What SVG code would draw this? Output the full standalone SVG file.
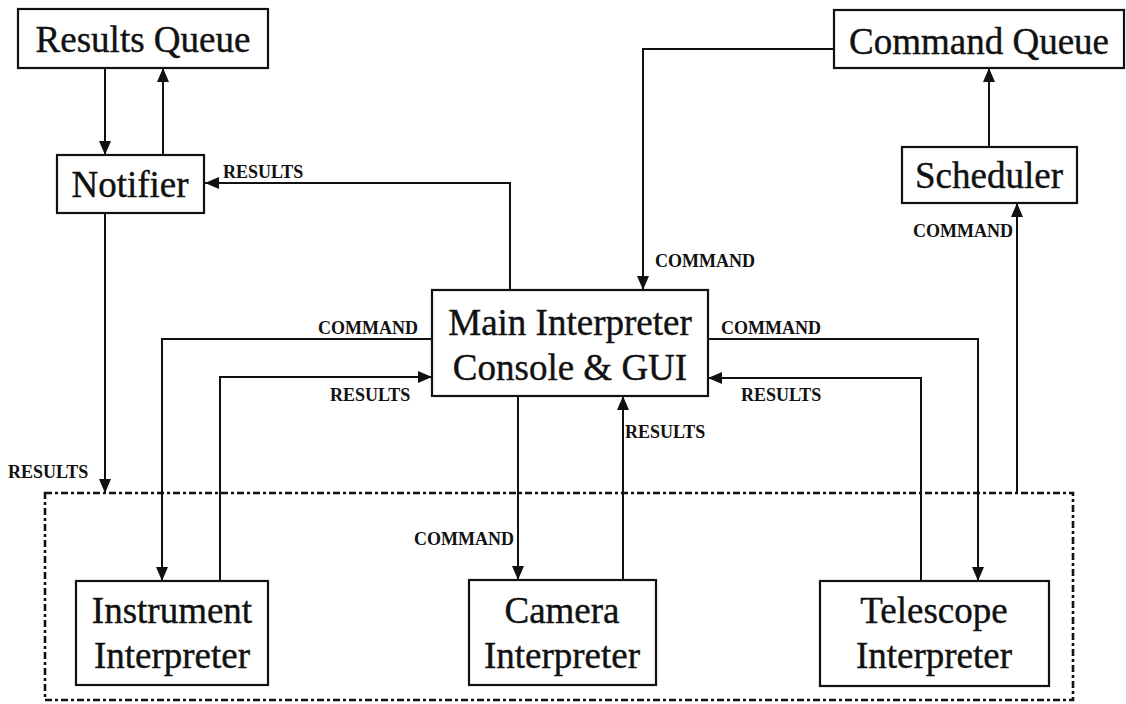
<svg xmlns="http://www.w3.org/2000/svg" width="1126" height="704" viewBox="0 0 1126 704">
  <style>
    .box { fill: #ffffff; stroke: #111111; stroke-width: 2.2; }
    .big { font-family: "Liberation Serif", "Times New Roman", serif; font-size: 37px; fill: #111111; text-anchor: middle; stroke: #111111; stroke-width: 0.4; }
    .lbl { font-family: "Liberation Serif", "Times New Roman", serif; font-size: 18px; font-weight: bold; fill: #111111; }
    .wire { fill: none; stroke: #111111; stroke-width: 2; }
    .frame { fill: none; stroke: #111111; stroke-width: 2.6; stroke-dasharray: 7 3 3 3; }
  </style>
  <defs>
    <marker id="arrow" viewBox="0 0 14 12" refX="14" refY="6" markerWidth="14" markerHeight="12" markerUnits="userSpaceOnUse" orient="auto">
      <path d="M0,0 L14,6 L0,12 Z" fill="#111111"/>
    </marker>
  </defs>

  <rect width="1126" height="704" fill="#ffffff"/>

  <!-- dashed boundary around the interpreters -->
  <rect class="frame" x="45" y="493" width="1028" height="207"/>

  <!-- connectors -->
  <g id="connectors">
    <path class="wire" d="M105,68 V155" marker-end="url(#arrow)"/>
    <path class="wire" d="M163,155 V68" marker-end="url(#arrow)"/>
    <path class="wire" d="M510,290 V183 H205" marker-end="url(#arrow)"/>
    <path class="wire" d="M105,213 V493" marker-end="url(#arrow)"/>
    <path class="wire" d="M834,49 H643 V290" marker-end="url(#arrow)"/>
    <path class="wire" d="M989,147 V68" marker-end="url(#arrow)"/>
    <path class="wire" d="M1017,493 V203" marker-end="url(#arrow)"/>
    <path class="wire" d="M432,339 H162 V581" marker-end="url(#arrow)"/>
    <path class="wire" d="M220,581 V377 H432" marker-end="url(#arrow)"/>
    <path class="wire" d="M518,396 V580" marker-end="url(#arrow)"/>
    <path class="wire" d="M623,580 V396" marker-end="url(#arrow)"/>
    <path class="wire" d="M708,339 H978 V581" marker-end="url(#arrow)"/>
    <path class="wire" d="M921,581 V378 H708" marker-end="url(#arrow)"/>

    <text class="lbl" x="223" y="178">RESULTS</text>
    <text class="lbl" x="655" y="267">COMMAND</text>
    <text class="lbl" x="318" y="334">COMMAND</text>
    <text class="lbl" x="330" y="401">RESULTS</text>
    <text class="lbl" x="721" y="334">COMMAND</text>
    <text class="lbl" x="741" y="401">RESULTS</text>
    <text class="lbl" x="625" y="438">RESULTS</text>
    <text class="lbl" x="8" y="478">RESULTS</text>
    <text class="lbl" x="414" y="545">COMMAND</text>
    <text class="lbl" x="913" y="237">COMMAND</text>
  </g>

  <g id="results-queue">
    <rect class="box" x="18" y="9" width="250" height="59"/>
    <text class="big" x="143" y="52">Results Queue</text>
  </g>

  <g id="notifier">
    <rect class="box" x="57" y="155" width="147" height="58"/>
    <text class="big" x="130" y="197">Notifier</text>
  </g>

  <g id="command-queue">
    <rect class="box" x="834" y="10" width="290" height="58"/>
    <text class="big" x="979" y="54">Command Queue</text>
  </g>

  <g id="scheduler">
    <rect class="box" x="902" y="147" width="175" height="56"/>
    <text class="big" x="989" y="188">Scheduler</text>
  </g>

  <g id="main-interpreter">
    <rect class="box" x="432" y="290" width="276" height="106"/>
    <text class="big" x="570" y="335">Main Interpreter</text>
    <text class="big" x="570" y="380">Console &amp; GUI</text>
  </g>

  <g id="instrument-interpreter">
    <rect class="box" x="76" y="581" width="192" height="104"/>
    <text class="big" x="172" y="623">Instrument</text>
    <text class="big" x="172" y="668">Interpreter</text>
  </g>

  <g id="camera-interpreter">
    <rect class="box" x="469" y="580" width="187" height="105"/>
    <text class="big" x="562" y="623">Camera</text>
    <text class="big" x="562" y="668">Interpreter</text>
  </g>

  <g id="telescope-interpreter">
    <rect class="box" x="820" y="581" width="229" height="105"/>
    <text class="big" x="934" y="623">Telescope</text>
    <text class="big" x="934" y="668">Interpreter</text>
  </g>
</svg>
